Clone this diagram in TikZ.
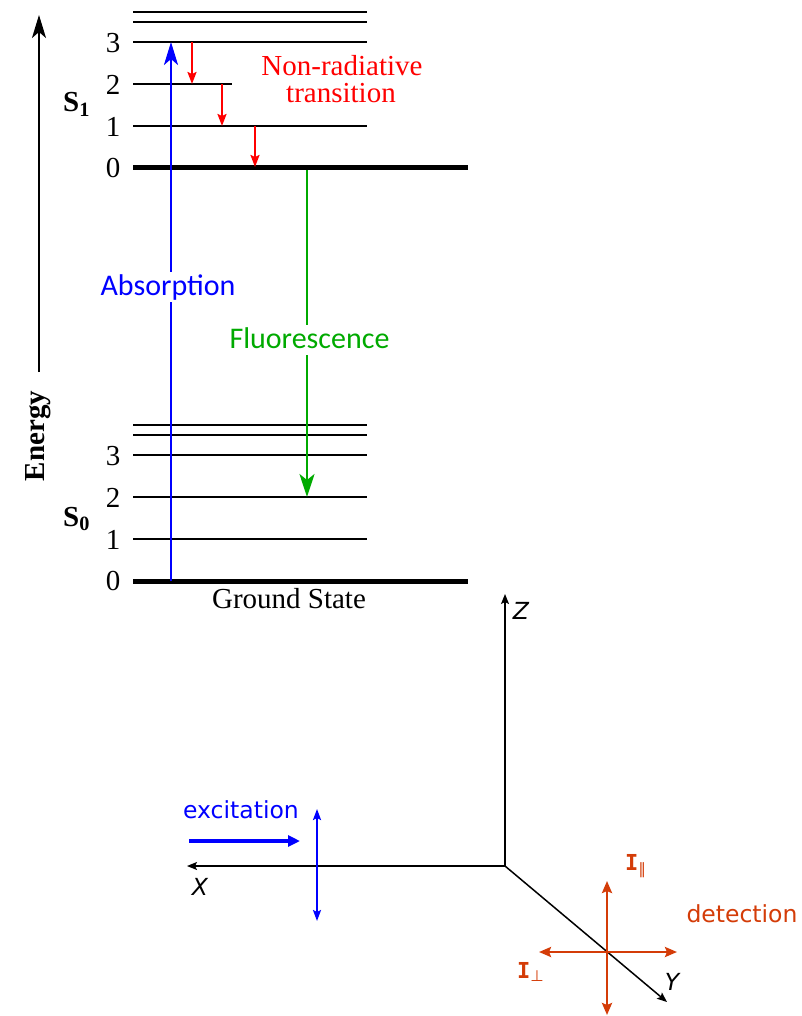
\documentclass[tikz,border=0pt]{standalone}
\usepackage{fontspec}
\setmainfont{Liberation Serif}
\newfontfamily\labfont{Carlito}
\newfontfamily\axfont{DejaVu Sans}
\newfontfamily\monofnt{DejaVu Sans Mono}
\usetikzlibrary{arrows.meta}
\definecolor{detcol}{RGB}{212,60,8}
\definecolor{flgreen}{RGB}{0,170,0}
\begin{document}
\begin{tikzpicture}[x=1pt,y=-1pt,
  every node/.style={inner sep=0pt},
  level/.style={line width=2pt},
  ground/.style={line width=5pt},
  num/.style={font=\fontsize{29}{29}\selectfont},
  slab/.style={font=\fontsize{29}{29}\selectfont\bfseries},
  redlab/.style={font=\fontsize{29}{29}\selectfont, text=red},
  seriflab/.style={font=\fontsize{29}{29}\selectfont},
  translab/.style={font=\labfont\fontsize{30}{30}\selectfont, fill=white, inner sep=2pt},
  energyarrow/.style={line width=2pt, -{Stealth[length=23pt,width=14pt,inset=6pt]}},
  absarrow/.style={blue, line width=2.5pt, -{Stealth[length=23pt,width=14pt,inset=6pt]}},
  fluarrow/.style={flgreen, line width=2.5pt, -{Stealth[length=23pt,width=15pt,inset=6pt]}},
  nrarrow/.style={red, line width=2pt, -{Stealth[length=12pt,width=9pt,inset=2pt]}},
  axis/.style={line width=1.5pt, -{Stealth[length=10pt,width=8pt,inset=2pt]}},
  axlab/.style={font=\axfont\itshape\fontsize{23.5}{23.5}\selectfont},
  bluelab/.style={font=\axfont\fontsize{23.5}{23.5}\selectfont, text=blue},
  detlab/.style={font=\axfont\fontsize{23.5}{23.5}\selectfont, text=detcol},
  ilab/.style={font=\monofnt\bfseries\fontsize{22}{22}\selectfont, text=detcol},
  excarrow/.style={blue, line width=4pt, -{Triangle[length=12pt,width=11pt]}},
  polblue/.style={blue, line width=2pt, {Stealth[length=11pt,width=8pt,inset=2pt]}-{Stealth[length=11pt,width=8pt,inset=2pt]}},
  poldet/.style={detcol, line width=2.5pt, {Stealth[length=12pt,width=10pt,inset=2pt]}-{Stealth[length=12pt,width=10pt,inset=2pt]}}
]
\useasboundingbox (0,0) rectangle (801,1016);
\fill[white] (0,0) rectangle (801,1016);

% ---- S1 levels ----
\draw[level] (133,12) -- (367,12);
\draw[level] (133,22) -- (367,22);
\draw[level] (133,42) -- (367,42);
\draw[level] (133,84) -- (232,84);
\draw[level] (133,126) -- (367,126);
\draw[ground] (133,168) -- (468,168);
% ---- S0 levels ----
\draw[level] (133,425) -- (367,425);
\draw[level] (133,435) -- (367,435);
\draw[level] (133,455) -- (367,455);
\draw[level] (133,497) -- (367,497);
\draw[level] (133,539) -- (367,539);
\draw[ground] (133,581) -- (468,581);

% ---- level numbers ----
\node[num] (a3) at (113,43) {3};
\node[num] (a2) at (113,85) {2};
\node[num] (a1) at (113,127) {1};
\node[num] (a0) at (113,168) {0};
\node[num] (b3) at (113,456) {3};
\node[num] (b2) at (113,498) {2};
\node[num] (b1) at (113,540) {1};
\node[num] (b0) at (113,581) {0};

\node[slab, anchor=base west] (s1) at (63,112) {S\textsubscript{1}};
\node[slab, anchor=base west] (s0) at (63,526) {S\textsubscript{0}};

\node[seriflab, anchor=base] (gs) at (289,608) {Ground State};

% ---- energy axis ----
\coordinate (e0) at (39,372);
\coordinate (e1) at (39,15);
\draw[energyarrow] (e0) -- (e1);
\node[slab, rotate=90] (energy) at (38,436) {Energy};

% ---- transitions ----
\coordinate (ab0) at (171,581);
\coordinate (ab1) at (171,42);
\draw[absarrow] (ab0) -- (ab1);

\coordinate (r1a) at (192,42);  \coordinate (r1b) at (192,84);
\coordinate (r2a) at (222,84);  \coordinate (r2b) at (222,126);
\coordinate (r3a) at (255,126); \coordinate (r3b) at (255,167);
\draw[nrarrow] (r1a) -- (r1b);
\draw[nrarrow] (r2a) -- (r2b);
\draw[nrarrow] (r3a) -- (r3b);

\coordinate (fl0) at (307,170);
\coordinate (fl1) at (307,497);
\draw[fluarrow] (fl0) -- (fl1);

\node[redlab, anchor=base] (nr1) at (342,76) {Non-radiative};
\node[redlab, anchor=base] (nr2) at (341,103) {transition};

\node[translab, text=blue, anchor=base] (abslab) at (168,295) {Absorption};
\node[translab, text=flgreen, anchor=base] (flulab) at (309.5,348) {Fluorescence\vphantom{p}};

% ---- bottom: axes ----
\coordinate (O) at (505,866);
\coordinate (Zt) at (505,594);
\coordinate (Xt) at (187,866);
\coordinate (Yt) at (667,1002);
\draw[axis] (O) -- (Zt);
\draw[axis] (O) -- (Xt);
\draw[axis] (O) -- (Yt);
\node[axlab] (zl) at (521,611) {Z};
\node[axlab] (xl) at (200,887) {X};
\node[axlab] (yl) at (672,982) {Y};

% ---- excitation ----
\node[bluelab, anchor=base] (exc) at (241,818) {excitation};
\coordinate (ex0) at (189,841);
\coordinate (ex1) at (300,841);
\draw[excarrow] (ex0) -- (ex1);
\coordinate (pb0) at (317,809);
\coordinate (pb1) at (317,921);
\draw[polblue] (pb0) -- (pb1);

% ---- detection ----
\coordinate (dv0) at (607,881);
\coordinate (dv1) at (607,1015);
\coordinate (dh0) at (539,952);
\coordinate (dh1) at (677,952);
\draw[poldet] (dv0) -- (dv1);
\draw[poldet] (dh0) -- (dh1);
\node[detlab, anchor=base] (det) at (742,922) {detection};
\node[ilab, anchor=base west] (ipar) at (625,870) {I\textsubscript{\axfont\mdseries ∥}};
\node[ilab, anchor=base west] (iperp) at (517,978) {I\textsubscript{\axfont\mdseries ⊥}};
\end{tikzpicture}
\end{document}
